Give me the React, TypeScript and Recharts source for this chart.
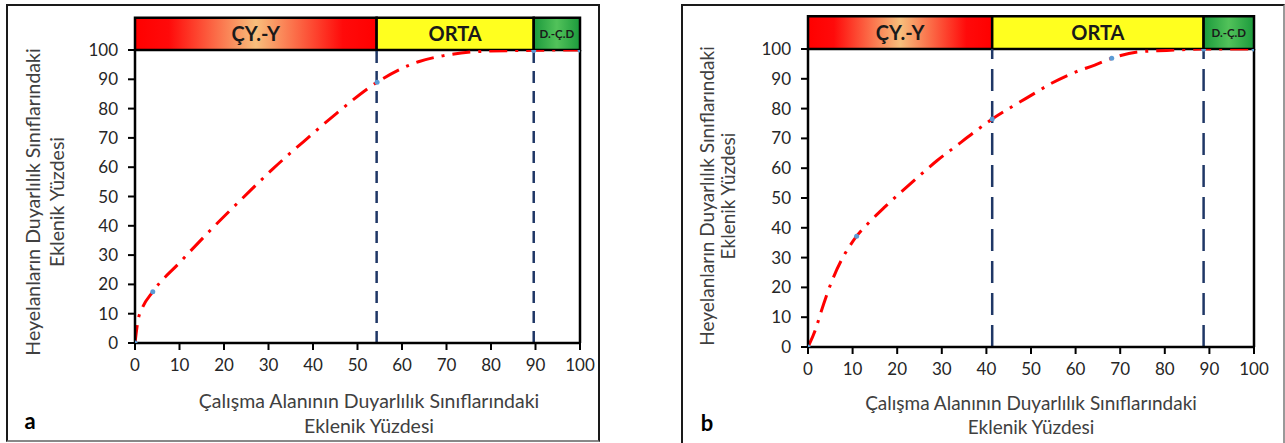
import React from "react";
import { ComposedChart, XAxis, YAxis, Line, Scatter, ReferenceArea, ReferenceLine } from "recharts";

const FONT = "Lato, 'Open Sans', sans-serif";

const xTicks = [0, 10, 20, 30, 40, 50, 60, 70, 80, 90, 100];
const yTicks = [0, 10, 20, 30, 40, 50, 60, 70, 80, 90, 100];
const classLabels = ["ÇY.-Y", "ORTA", "D.-Ç.D"];

const curveA = [
  { x: 0, y: 0 }, { x: 0.7, y: 7.9 }, { x: 1.6, y: 11.8 }, { x: 4, y: 17.5 },
  { x: 10, y: 27.4 }, { x: 17.6, y: 39.5 }, { x: 25.5, y: 51.4 }, { x: 31.1, y: 59.6 },
  { x: 39.3, y: 70.6 }, { x: 45.3, y: 78.4 }, { x: 54.4, y: 89 }, { x: 63.7, y: 96 },
  { x: 69.1, y: 98 }, { x: 78.9, y: 99.6 }, { x: 89.6, y: 99.9 }, { x: 100, y: 100 },
];
const markersA = [
  { x: 0, y: 0 }, { x: 4, y: 17.5 }, { x: 54.4, y: 89 }, { x: 89.6, y: 99.8 }, { x: 100, y: 100 },
];
const bandsA = [0, 54.3, 89.6, 100];

// panel b
const curveB = [
  { x: 0, y: 0 }, { x: 1.9, y: 6.8 }, { x: 2.7, y: 10.7 }, { x: 5.3, y: 21.9 },
  { x: 10.9, y: 37.2 }, { x: 13.5, y: 41.5 }, { x: 17.3, y: 47.1 },
  { x: 24.7, y: 57.1 }, { x: 28.9, y: 62.5 }, { x: 33, y: 67.2 },
  { x: 37.1, y: 71.9 }, { x: 41.3, y: 76.5 }, { x: 45.7, y: 80.6 }, { x: 50.2, y: 84.6 },
  { x: 54.6, y: 88.5 }, { x: 60.2, y: 92.4 }, { x: 64.3, y: 94.6 }, { x: 68.1, y: 96.9 },
  { x: 74.4, y: 99.1 }, { x: 80.4, y: 99.5 }, { x: 88.7, y: 100 }, { x: 100, y: 100 },
];
const markersB = [
  { x: 0, y: 0 }, { x: 10.9, y: 37.2 }, { x: 41.3, y: 76.5 }, { x: 68.1, y: 96.9 },
  { x: 88.7, y: 100 }, { x: 100, y: 100 },
];
const bandsB = [0, 41.3, 88.7, 100];

const HEADER_TOP = 111;

type Pt = { x: number; y: number };

function Panel(props: {
  id: string;
  left: number;
  width: number;
  margin: { top: number; right: number; bottom: number; left: number };
  curve: Pt[];
  markers: Pt[];
  bands: number[];
  dash: string;
}) {
  const { id, left, width, margin, curve, markers, bands, dash } = props;
  const fills = [`url(#red-${id})`, "#ffff1f", `url(#green-${id})`];
  const labelSizes = [20, 20, 11.5];
  return (
    <div style={{ position: "absolute", left, top: 0 }}>
      <ComposedChart width={width} height={443} margin={margin}>
        <defs>
          <linearGradient id={`red-${id}`} x1="0" y1="0" x2="1" y2="0">
            <stop offset="0%" stopColor="#ff0000" />
            <stop offset="14%" stopColor="#ff0a0a" />
            <stop offset="50%" stopColor="#f8bf7c" />
            <stop offset="86%" stopColor="#ff0a0a" />
            <stop offset="100%" stopColor="#ff0000" />
          </linearGradient>
          <linearGradient id={`green-${id}`} x1="0" y1="0" x2="1" y2="0">
            <stop offset="0%" stopColor="#1b9a3c" />
            <stop offset="50%" stopColor="#52c25a" />
            <stop offset="100%" stopColor="#1b9a3c" />
          </linearGradient>
        </defs>
        <XAxis
          type="number"
          dataKey="x"
          domain={[0, 100]}
          ticks={xTicks}
          height={30}
          tickSize={7}
          tickMargin={9}
          axisLine={{ stroke: "#000", strokeWidth: 2.5 }}
          tickLine={{ stroke: "#000", strokeWidth: 2 }}
          tick={{ fill: "#262626", fontSize: 17 }}
          allowDataOverflow
        />
        <YAxis
          type="number"
          dataKey="y"
          domain={[0, 100]}
          ticks={yTicks}
          width={60}
          tickSize={7}
          tickMargin={10}
          axisLine={{ stroke: "#000", strokeWidth: 2.5 }}
          tickLine={{ stroke: "#000", strokeWidth: 2 }}
          tick={{ fill: "#262626", fontSize: 17 }}
          allowDataOverflow
        />
        {classLabels.map((lab, i) => (
          <ReferenceArea
            key={lab}
            x1={bands[i]}
            x2={bands[i + 1]}
            y1={100}
            y2={HEADER_TOP}
            ifOverflow="visible"
            fill={fills[i]}
            fillOpacity={1}
            stroke="#000"
            strokeWidth={2.5}
            label={{
              value: lab,
              position: "center",
              fill: "#1a1a1a",
              fontSize: labelSizes[i],
              fontWeight: 700,
            }}
          />
        ))}
        <ReferenceLine x={100} stroke="#000" strokeWidth={2.5} />
        <ReferenceLine x={bands[1]} stroke="#1f3766" strokeWidth={2.5} strokeDasharray={dash} />
        <ReferenceLine x={bands[2]} stroke="#1f3766" strokeWidth={2.5} strokeDasharray={dash} />
        <Line
          data={curve}
          dataKey="y"
          type="monotone"
          stroke="#ff0000"
          strokeWidth={3}
          strokeDasharray="18 8 3 8"
          dot={false}
          activeDot={false}
          isAnimationActive={false}
        />
        <Scatter
          data={markers}
          dataKey="y"
          fill="#5b9bd5"
          isAnimationActive={false}
          shape={(p: any) => <circle cx={p.cx} cy={p.cy} r={2.5} fill="#5b9bd5" />}
        />
      </ComposedChart>
    </div>
  );
}

function Txt(props: { x: number; y: number; text: string; size?: number; bold?: boolean; rotate?: boolean; color?: string }) {
  const { x, y, text, size = 19.5, bold, rotate, color = "#404040" } = props;
  return (
    <div
      style={{
        position: "absolute",
        left: x,
        top: y,
        transform: `translate(-50%, -50%)${rotate ? " rotate(-90deg)" : ""}`,
        whiteSpace: "nowrap",
        fontSize: size,
        fontWeight: bold ? 700 : 400,
        color,
        lineHeight: 1,
      }}
    >
      {text}
    </div>
  );
}

export default function App() {
  return (
    <div
      style={{
        position: "absolute",
        left: 0,
        top: 0,
        width: 1285,
        height: 443,
        overflow: "hidden",
        background: "#fff",
        fontFamily: FONT,
      }}
    >
      {/* frames */}
      <div style={{ position: "absolute", left: 6, top: 4, width: 590, height: 434, border: "2px solid #1a1a1a", borderBottomColor: "#888" }} />
      <div style={{ position: "absolute", left: 681, top: 4, width: 600, height: 445, border: "2px solid #1a1a1a", borderRightColor: "#999" }} />

      <Panel
        id="a"
        left={0}
        width={600}
        margin={{ top: 50, right: 20, bottom: 70, left: 75 }}
        curve={curveA}
        markers={markersA}
        bands={bandsA}
        dash="12 8"
      />
      <Panel
        id="b"
        left={680}
        width={605}
        margin={{ top: 49, right: 31, bottom: 66, left: 68 }}
        curve={curveB}
        markers={markersB}
        bands={bandsB}
        dash="22 10"
      />

      <Txt x={33} y={202} text="Heyelanların Duyarlılık Sınıflarındaki" rotate />
      <Txt x={57} y={202} text="Eklenik Yüzdesi" rotate />
      <Txt x={369} y={401} text="Çalışma Alanının Duyarlılık Sınıflarındaki" />
      <Txt x={369} y={426} text="Eklenik Yüzdesi" />
      <Txt x={30} y={421} text="a" size={22} bold color="#000" />

      <Txt x={706} y={196} text="Heyelanların Duyarlılık Sınıflarındaki" rotate size={19} />
      <Txt x={727} y={196} text="Eklenik Yüzdesi" rotate size={19} />
      <Txt x={1031} y={402} text="Çalışma Alanının Duyarlılık Sınıflarındaki" size={19} />
      <Txt x={1031} y={426} text="Eklenik Yüzdesi" size={19} />
      <Txt x={707} y={423} text="b" size={22} bold color="#000" />
    </div>
  );
}
